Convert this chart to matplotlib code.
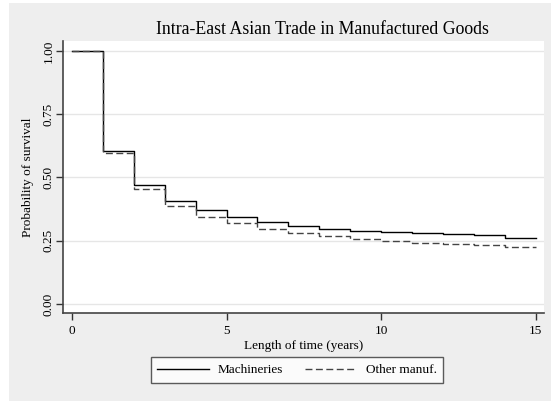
import matplotlib.pyplot as plt
from matplotlib.patches import Rectangle

plt.rcParams['font.family'] = ['Liberation Serif', 'DejaVu Serif']

# Kaplan-Meier survival estimates
years = [0, 1, 2, 3, 4, 5, 6, 7, 8, 9, 10, 11, 12, 13, 14, 15]
machineries = [1.0, 0.606, 0.472, 0.408, 0.372, 0.345, 0.323, 0.309,
               0.298, 0.290, 0.283, 0.281, 0.277, 0.273, 0.262, 0.262]
other_manuf = [1.0, 0.598, 0.456, 0.389, 0.345, 0.319, 0.296, 0.281,
               0.269, 0.257, 0.249, 0.241, 0.238, 0.235, 0.225, 0.225]

x_ticks = [0, 5, 10, 15]
y_ticks = [0.0, 0.25, 0.5, 0.75, 1.0]
y_tick_labels = ['0.00', '0.25', '0.50', '0.75', '1.00']

fig = plt.figure(figsize=(5.51, 4.01), dpi=100, facecolor='white')
fig.patches.append(Rectangle((9 / 551, 0), 1, 1 - 3 / 401, transform=fig.transFigure,
                             facecolor='#eeeeee', edgecolor='none', zorder=-10))

ax = fig.add_axes([63 / 551, 1 - 313 / 401, 481 / 551, 272 / 401])
ax.set_zorder(1)
ax.set_facecolor('white')

ax.plot(years, machineries, drawstyle='steps-post', color='black', lw=1.0,
        label='Machineries')
ax.plot(years, other_manuf, drawstyle='steps-post', color='#444444', lw=1.0,
        linestyle=(0, (5, 2.5)), label='Other manuf.')

ax.set_xlim(-0.29, 15.27)
ax.set_ylim(-0.0356, 1.0395)
ax.set_xticks(x_ticks)
ax.set_yticks(y_ticks)
ax.set_yticklabels(y_tick_labels, rotation=90, va='center')
ax.tick_params(direction='out', length=5, width=1, color='#333333',
               labelsize=9.5, pad=4)
ax.tick_params(axis='y', pad=1)
ax.yaxis.grid(True, color='#e6e6e6', lw=1)
ax.set_axisbelow(True)

for side in ['top', 'right']:
    ax.spines[side].set_visible(False)
for side in ['left', 'bottom']:
    ax.spines[side].set_color('#444444')
    ax.spines[side].set_linewidth(1.2)

ax.set_xlabel('Length of time (years)', fontsize=9.5, labelpad=2)
ax.set_ylabel('Probability of survival', fontsize=9.5, labelpad=6)

fig.text(322 / 551, 1 - 30 / 401, 'Intra-East Asian Trade in Manufactured Goods',
         ha='center', va='center', fontsize=12.8)

leg = fig.legend(loc='center', bbox_to_anchor=(297 / 551, 1 - 370 / 401), ncol=2,
                 fontsize=9.5, fancybox=False, handlelength=3.9, columnspacing=1.7,
                 borderpad=0.5, handletextpad=0.68)
leg.get_frame().set_edgecolor('#333333')
leg.get_frame().set_linewidth(1.0)

fig.savefig('out.png', dpi=100)
